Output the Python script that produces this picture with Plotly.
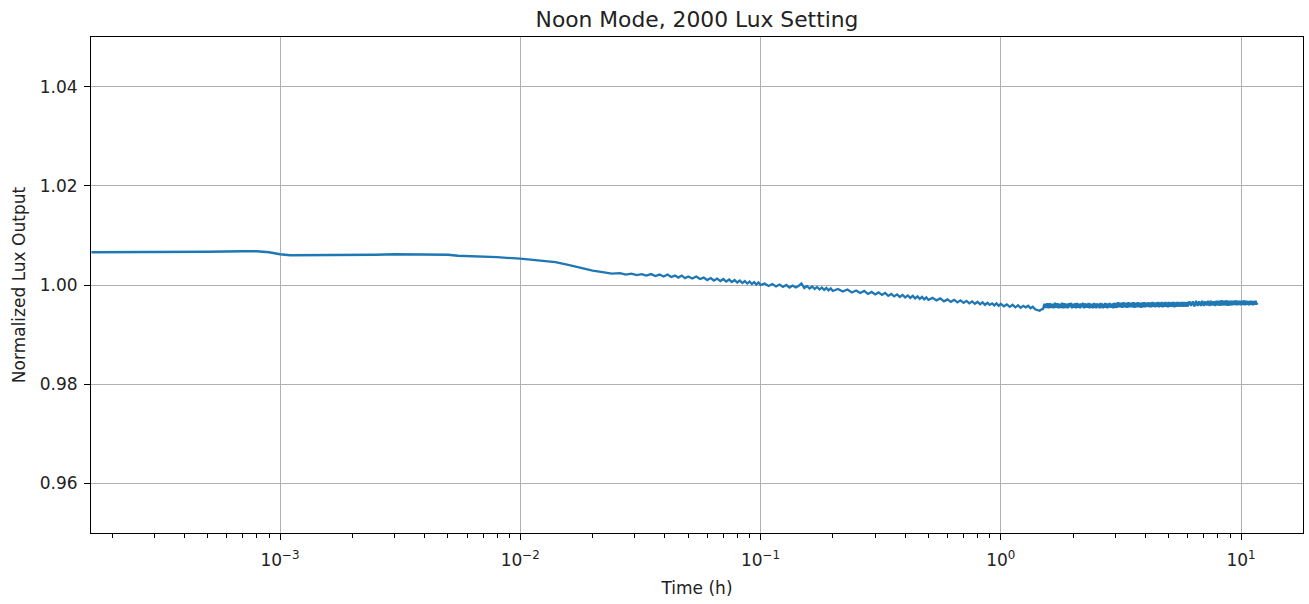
import plotly.graph_objects as go

# ---- data ----
time_smooth = [0.000164, 0.0002, 0.0003, 0.0005, 0.0007, 0.0008, 0.0009, 0.001, 0.0011,
               0.0013, 0.0016, 0.002, 0.0025, 0.003, 0.004, 0.005, 0.0055, 0.0065, 0.008,
               0.01, 0.012, 0.014, 0.016, 0.018, 0.02, 0.022, 0.024]
lux_smooth = [1.0066, 1.0066, 1.0066, 1.0067, 1.0068, 1.0068, 1.0066, 1.0062, 1.0060,
              1.0060, 1.0060, 1.0061, 1.0061, 1.0062, 1.0061, 1.0061, 1.0059, 1.0058, 1.0056,
              1.0053, 1.0050, 1.0046, 1.0040, 1.0034, 1.0029, 1.0026, 1.0023]

time_noisy = [0.026, 0.0275, 0.029, 0.0305, 0.032, 0.0335, 0.035, 0.0365, 0.038, 0.0395,
              0.041, 0.0425, 0.044, 0.0455, 0.047, 0.0485, 0.05,
              0.052, 0.054, 0.056, 0.058, 0.06, 0.062, 0.064, 0.066, 0.068, 0.07,
              0.072, 0.074, 0.076, 0.078, 0.08, 0.082, 0.084, 0.086, 0.088, 0.09,
              0.092, 0.094, 0.096, 0.098, 0.1,
              0.104, 0.108, 0.112, 0.116, 0.12, 0.124, 0.128, 0.132, 0.136, 0.14,
              0.144, 0.148, 0.152, 0.156, 0.16, 0.164, 0.168, 0.172, 0.176, 0.18,
              0.184, 0.188, 0.192, 0.196, 0.2,
              0.21, 0.22, 0.23, 0.24, 0.25, 0.26, 0.27, 0.28, 0.29, 0.3,
              0.31, 0.32, 0.33, 0.34, 0.35, 0.36, 0.37, 0.38, 0.39, 0.4,
              0.41, 0.42, 0.43, 0.44, 0.45, 0.46, 0.47, 0.48, 0.49, 0.5,
              0.52, 0.54, 0.56, 0.58, 0.6, 0.62, 0.64, 0.66, 0.68, 0.7,
              0.72, 0.74, 0.76, 0.78, 0.8, 0.82, 0.84, 0.86, 0.88, 0.9,
              0.92, 0.94, 0.96, 0.98, 1.0,
              1.03, 1.06, 1.09, 1.12, 1.15, 1.18, 1.21, 1.24, 1.27, 1.3,
              1.33, 1.36, 1.39, 1.42, 1.45, 1.48]
lux_noisy = [1.0024, 1.0021, 1.0023, 1.0020, 1.0022, 1.0019, 1.0022, 1.0018, 1.0021, 1.0017,
             1.0021, 1.0016, 1.0019, 1.0015, 1.0019, 1.0014, 1.0017,
             1.0013, 1.0017, 1.0012, 1.0015, 1.0010, 1.0014, 1.0009, 1.0013, 1.0008, 1.0012,
             1.0007, 1.0011, 1.0006, 1.0010, 1.0005, 1.0009, 1.0004, 1.0008, 1.0003, 1.0007,
             1.0002, 1.0006, 1.0001, 1.0005, 1.0000,
             1.0003, 0.9998, 1.0002, 0.9997, 1.0001, 0.9996, 1.0000, 0.9995, 0.9999, 0.9995,
             0.9998, 1.0003, 0.9994, 0.9998, 0.9993, 0.9997, 0.9992, 0.9996, 0.9991, 0.9995,
             0.9990, 0.9994, 0.9989, 0.9993, 0.9988,
             0.9992, 0.9987, 0.9991, 0.9985, 0.9989, 0.9984, 0.9988, 0.9982, 0.9986, 0.9981,
             0.9985, 0.9980, 0.9984, 0.9978, 0.9982, 0.9977, 0.9981, 0.9976, 0.9980, 0.9975,
             0.9979, 0.9974, 0.9978, 0.9973, 0.9977, 0.9972, 0.9976, 0.9971, 0.9975, 0.9970,
             0.9974, 0.9969, 0.9973, 0.9967, 0.9971, 0.9966, 0.9970, 0.9965, 0.9969, 0.9964,
             0.9968, 0.9963, 0.9967, 0.9962, 0.9966, 0.9961, 0.9965, 0.9960, 0.9964, 0.9960,
             0.9963, 0.9959, 0.9963, 0.9958, 0.9962,
             0.9957, 0.9961, 0.9956, 0.9960, 0.9955, 0.9959, 0.9954, 0.9958, 0.9955, 0.9958,
             0.9953, 0.9956, 0.9951, 0.9949, 0.9948, 0.9951]

time_dense_a = [1.5, 1.52, 1.54, 1.56, 1.58, 1.6, 1.62, 1.64, 1.66, 1.68,
                1.7, 1.72, 1.74, 1.76, 1.78, 1.8, 1.82, 1.84, 1.86, 1.88,
                1.9, 1.92, 1.94, 1.96, 1.98, 2.0, 2.02, 2.04, 2.06, 2.08,
                2.1, 2.12, 2.14, 2.16, 2.18, 2.2, 2.22, 2.24, 2.26, 2.28,
                2.3, 2.32, 2.34, 2.36, 2.38, 2.4, 2.42, 2.44, 2.46, 2.48,
                2.5, 2.52, 2.54, 2.56, 2.58, 2.6, 2.62, 2.64, 2.66, 2.68,
                2.7, 2.72, 2.74, 2.76, 2.78, 2.8, 2.82, 2.84, 2.86, 2.88,
                2.9, 2.92, 2.94, 2.96, 2.98]
lux_dense_a = [0.9952, 0.9962, 0.9954, 0.9963, 0.9953, 0.9963, 0.9954, 0.9962, 0.9953, 0.9964,
               0.9954, 0.9963, 0.9953, 0.9962, 0.9954, 0.9964, 0.9953, 0.9963, 0.9954, 0.9962,
               0.9953, 0.9963, 0.9955, 0.9964, 0.9953, 0.9962, 0.9954, 0.9963, 0.9953, 0.9964,
               0.9954, 0.9962, 0.9953, 0.9963, 0.9955, 0.9964, 0.9953, 0.9963, 0.9954, 0.9962,
               0.9954, 0.9964, 0.9953, 0.9963, 0.9954, 0.9962, 0.9953, 0.9964, 0.9954, 0.9963,
               0.9953, 0.9963, 0.9955, 0.9962, 0.9953, 0.9964, 0.9954, 0.9963, 0.9953, 0.9962,
               0.9954, 0.9964, 0.9954, 0.9963, 0.9953, 0.9963, 0.9955, 0.9964, 0.9954, 0.9962,
               0.9954, 0.9963, 0.9953, 0.9964, 0.9954]

time_dense_b = [3.0, 3.04, 3.08, 3.12, 3.16, 3.2, 3.24, 3.28, 3.32, 3.36,
                3.4, 3.44, 3.48, 3.52, 3.56, 3.6, 3.64, 3.68, 3.72, 3.76,
                3.8, 3.84, 3.88, 3.92, 3.96, 4.0, 4.04, 4.08, 4.12, 4.16,
                4.2, 4.24, 4.28, 4.32, 4.36, 4.4, 4.44, 4.48, 4.52, 4.56,
                4.6, 4.64, 4.68, 4.72, 4.76, 4.8, 4.84, 4.88, 4.92, 4.96,
                5.0, 5.04, 5.08, 5.12, 5.16, 5.2, 5.24, 5.28, 5.32, 5.36,
                5.4, 5.44, 5.48, 5.52, 5.56, 5.6, 5.64, 5.68, 5.72, 5.76,
                5.8, 5.84, 5.88, 5.92, 5.96]
lux_dense_b = [0.9964, 0.9954, 0.9965, 0.9955, 0.9964, 0.9954, 0.9965, 0.9955, 0.9964, 0.9954,
               0.9965, 0.9955, 0.9964, 0.9955, 0.9965, 0.9954, 0.9964, 0.9955, 0.9965, 0.9955,
               0.9964, 0.9954, 0.9965, 0.9955, 0.9965, 0.9955, 0.9964, 0.9956, 0.9965, 0.9955,
               0.9965, 0.9955, 0.9966, 0.9956, 0.9965, 0.9955, 0.9965, 0.9956, 0.9966, 0.9955,
               0.9965, 0.9956, 0.9966, 0.9955, 0.9965, 0.9956, 0.9966, 0.9956, 0.9965, 0.9955,
               0.9966, 0.9956, 0.9965, 0.9956, 0.9966, 0.9956, 0.9966, 0.9955, 0.9965, 0.9956,
               0.9966, 0.9956, 0.9966, 0.9957, 0.9965, 0.9956, 0.9966, 0.9957, 0.9966, 0.9956,
               0.9966, 0.9957, 0.9965, 0.9956, 0.9966]

time_dense_c = [6.0, 6.1, 6.2, 6.3, 6.4, 6.5, 6.6, 6.7, 6.8, 6.9,
                7.0, 7.1, 7.2, 7.3, 7.4, 7.5, 7.6, 7.7, 7.8, 7.9,
                8.0, 8.1, 8.2, 8.3, 8.4, 8.5, 8.6, 8.7, 8.8, 8.9,
                9.0, 9.1, 9.2, 9.3, 9.4, 9.5, 9.6, 9.7, 9.8, 9.9,
                10.0, 10.1, 10.2, 10.3, 10.4, 10.5, 10.6, 10.7, 10.8, 10.9,
                11.0, 11.1, 11.2, 11.3, 11.4, 11.5, 11.6, 11.7]
lux_dense_c = [0.9957, 0.9967, 0.9958, 0.9967, 0.9957, 0.9968, 0.9958, 0.9967, 0.9958, 0.9968,
               0.9958, 0.9967, 0.9959, 0.9968, 0.9958, 0.9968, 0.9959, 0.9967, 0.9958, 0.9968,
               0.9959, 0.9968, 0.9958, 0.9969, 0.9959, 0.9968, 0.9959, 0.9969, 0.9958, 0.9968,
               0.9959, 0.9968, 0.9959, 0.9968, 0.9960, 0.9969, 0.9959, 0.9968, 0.9960, 0.9968,
               0.9959, 0.9968, 0.9960, 0.9969, 0.9959, 0.9968, 0.9960, 0.9968, 0.9959, 0.9968,
               0.9960, 0.9968, 0.9959, 0.9968, 0.9960, 0.9968, 0.9961, 0.9964]

x_tick_vals = [1e-3, 1e-2, 1e-1, 1, 10]
x_tick_text = ["10<sup>\u22123</sup>", "10<sup>\u22122</sup>", "10<sup>\u22121</sup>",
               "10<sup>0</sup>", "10<sup>1</sup>"]
y_tick_vals = [0.96, 0.98, 1.00, 1.02, 1.04]
y_tick_text = ["0.96", "0.98", "1.00", "1.02", "1.04"]

title_text = "Noon Mode, 2000 Lux Setting"
x_label = "Time (h)"
y_label = "Normalized Lux Output"

time_all = time_smooth + time_noisy + time_dense_a + time_dense_b + time_dense_c
lux_all = lux_smooth + lux_noisy + lux_dense_a + lux_dense_b + lux_dense_c

minor_vals = [m * 10.0 ** e for e in range(-4, 2) for m in range(2, 10)]

FONT = "DejaVu Sans, Arial, sans-serif"
TXT = "#222222"

fig = go.Figure()
fig.add_trace(go.Scatter(x=time_all, y=lux_all, mode="lines",
                         line=dict(color="#1f77b4", width=2.3), showlegend=False))

fig.update_layout(
    width=1309, height=604,
    margin=dict(l=91, r=6, t=37, b=71, autoexpand=False),
    paper_bgcolor="white", plot_bgcolor="white",
    font=dict(family=FONT, size=17, color=TXT),
    title=dict(text=title_text, x=0.5, xref="paper", xanchor="center",
               y=1 - 19 / 604, yref="container", yanchor="middle",
               font=dict(family=FONT, size=21.8, color=TXT)),
)

fig.update_xaxes(
    type="log", range=[-3.787, 1.258], automargin=False,
    tickmode="array", tickvals=x_tick_vals, ticktext=x_tick_text,
    ticks="outside", ticklen=6, tickwidth=1, tickcolor="black",
    ticklabelstandoff=6,
    showgrid=True, gridcolor="#b0b0b0", gridwidth=1,
    showline=True, linecolor="black", linewidth=1, mirror=True,
    zeroline=False,
    minor=dict(tickmode="array", tickvals=minor_vals, ticks="outside", ticklen=3.5,
               tickwidth=0.8, tickcolor="black", showgrid=False),
    title=dict(text=x_label, standoff=12, font=dict(family=FONT, size=17, color=TXT)),
    tickfont=dict(family=FONT, size=17, color=TXT),
)
fig.update_yaxes(
    range=[0.95, 1.05], automargin=False,
    tickmode="array", tickvals=y_tick_vals, ticktext=y_tick_text,
    ticks="outside", ticklen=6, tickwidth=1, tickcolor="black",
    ticklabelstandoff=3,
    showgrid=True, gridcolor="#b0b0b0", gridwidth=1,
    showline=True, linecolor="black", linewidth=1, mirror=True,
    zeroline=False,
    title=dict(text=y_label, standoff=9, font=dict(family=FONT, size=17, color=TXT)),
    tickfont=dict(family=FONT, size=17, color=TXT),
)

fig.write_html("out.html", config={"displayModeBar": False},
               post_script="document.body.style.margin='0';document.body.style.overflow='hidden';")
